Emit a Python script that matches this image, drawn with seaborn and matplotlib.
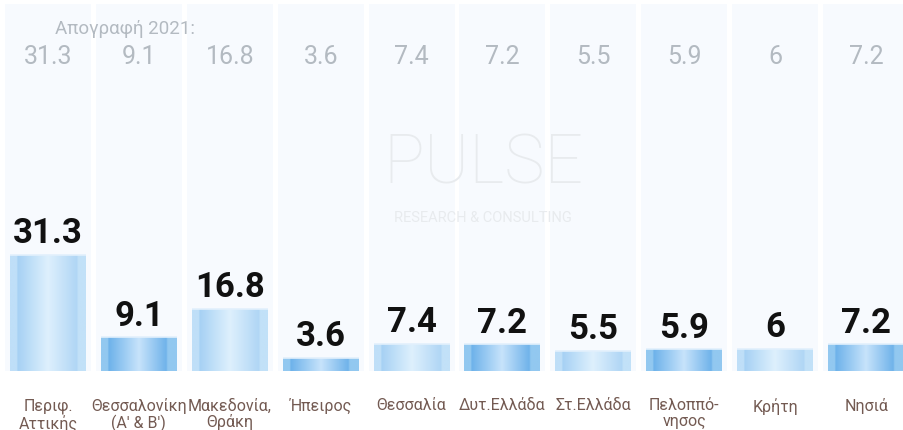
import numpy as np
import pandas as pd
import matplotlib
matplotlib.use("Agg")
import matplotlib.pyplot as plt
from matplotlib.colors import LinearSegmentedColormap
import seaborn as sns

categories = ["Περιφ.\nΑττικής", "Θεσσαλονίκη\n(Α' & Β')", "Μακεδονία,\nΘράκη", "Ήπειρος",
              "Θεσσαλία", "Δυτ.Ελλάδα", "Στ.Ελλάδα", "Πελοππό-\nνησος", "Κρήτη", "Νησιά"]
values = [31.3, 9.1, 16.8, 3.6, 7.4, 7.2, 5.5, 5.9, 6, 7.2]
census = [31.3, 9.1, 16.8, 3.6, 7.4, 7.2, 5.5, 5.9, 6, 7.2]
census_title = "Απογραφή 2021:"
background_level = 99

sns.set_theme(style="white")
plt.rcParams["font.family"] = ["Roboto", "DejaVu Sans"]

fig = plt.figure(figsize=(9.04, 4.31), dpi=100)
ax = fig.add_axes([0, (431 - 372) / 431, 1, 372 / 431])

df = pd.DataFrame({"cat": categories, "val": values, "bg": [background_level] * len(categories)})

sns.barplot(data=df, x="cat", y="bg", color="#f7fafe", width=0.946, ax=ax,
            saturation=1, linewidth=0, zorder=0)
n_bg = len(ax.patches)
sns.barplot(data=df, x="cat", y="val", color="#b5d8f5", width=0.836, ax=ax,
            saturation=1, linewidth=0, zorder=2)

light = LinearSegmentedColormap.from_list("light", [
    (0.0, "#bfdff8"), (0.09, "#bfdff8"), (0.10, "#a6d1f4"), (0.5, "#def0fd"),
    (0.88, "#b0d6f5"), (0.90, "#c2e1f8"), (1.0, "#c2e1f8")])
dark = LinearSegmentedColormap.from_list("dark", [
    (0.0, "#92c8f0"), (0.09, "#92c8f0"), (0.10, "#6db2ea"), (0.5, "#c7e3fb"),
    (0.86, "#70b3ea"), (0.88, "#92c8f0"), (1.0, "#92c8f0")])
grad = np.linspace(0, 1, 256).reshape(1, -1)

bars = ax.patches[n_bg:]
for i, p in enumerate(bars):
    x0, y0 = p.get_x(), p.get_y()
    w, h = p.get_width(), p.get_height()
    cmap = light if i % 2 == 0 else dark
    im = ax.imshow(grad, cmap=cmap, aspect="auto", extent=[x0, x0 + w, y0, y0 + h],
                   zorder=3, interpolation="bilinear")
    im.set_clip_path(p)
    ax.plot([x0, x0 + w], [y0 + h, y0 + h], color="#e2f0fc", lw=1.2, zorder=4,
            solid_capstyle="butt")
    ax.annotate(f"{values[i]:g}", (x0 + w / 2, y0 + h), xytext=(0, 9),
                textcoords="offset points", ha="center", va="baseline",
                fontsize=25, fontweight="bold", color="#111111", zorder=5)
    ax.text(i, 85, f"{census[i]:g}", ha="center", va="center", fontsize=18,
            color="#b3bac1", zorder=5)

ax.text(0.077, 92.5, census_title, ha="left", va="center", fontsize=13.5,
        color="#b3bac1", zorder=5)

# watermark
ax.text(4.79, 56, "PULSE", ha="center", va="center", fontsize=49, fontweight="light",
        color="#e8ebee", zorder=1)
ax.text(4.79, 41.5, "RESEARCH & CONSULTING", ha="center", va="center", fontsize=10.5,
        color="#e8ebee", zorder=1)

ax.set_xlim(-0.528, 9.417)
ax.set_ylim(0, 100.3)
ax.set_xlabel("")
ax.set_ylabel("")
ax.set_yticks([])
ax.tick_params(axis="x", length=0, pad=19, labelsize=11.5, labelcolor="#735a52")
for lbl in ax.get_xticklabels():
    lbl.set_linespacing(1.05)
sns.despine(ax=ax, left=True, bottom=True)
ax.set_facecolor("white")
fig.patch.set_facecolor("white")

fig.savefig("out.png", dpi=100)
